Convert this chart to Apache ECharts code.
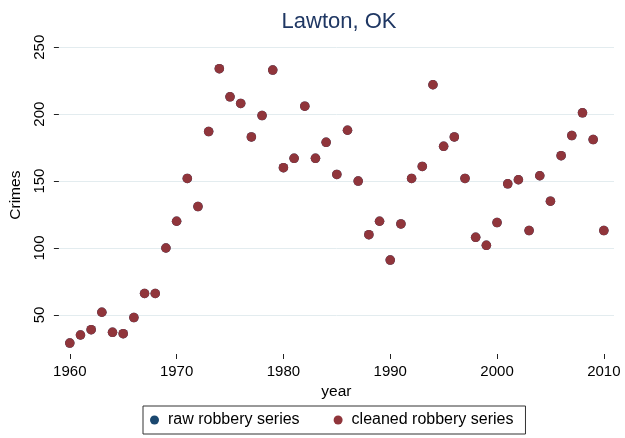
<!DOCTYPE html>
<html>
<head>
<meta charset="utf-8">
<script src="https://cdn.jsdelivr.net/npm/echarts@6/dist/echarts.min.js"></script>
<style>
html,body{margin:0;padding:0;background:#fff;}
#chart{width:625px;height:438px;}
</style>
</head>
<body>
<div id="chart"></div>
<script>
const years = [1960,1961,1962,1963,1964,1965,1966,1967,1968,1969,
  1970,1971,1972,1973,1974,1975,1976,1977,1978,1979,
  1980,1981,1982,1983,1984,1985,1986,1987,1988,1989,
  1990,1991,1992,1993,1994,1995,1996,1997,1998,1999,
  2000,2001,2002,2003,2004,2005,2006,2007,2008,2009,2010];
const rawRobbery = [29,35,39,52,37,36,48,66,66,100,
  120,152,131,187,234,213,208,183,199,233,
  160,167,206,167,179,155,188,150,110,120,
  91,118,152,161,222,176,183,152,108,102,
  119,148,151,113,154,135,169,184,201,181,113];
const cleanedRobbery = [29,35,39,52,37,36,48,66,66,100,
  120,152,131,187,234,213,208,183,199,233,
  160,167,206,167,179,155,188,150,110,120,
  91,118,152,161,222,176,183,152,108,102,
  119,148,151,113,154,135,169,184,201,181,113];
const xTicks = [1960,1970,1980,1990,2000,2010];
const yTicks = [50,100,150,200,250];

const FONT = '"Liberation Sans", Arial, Helvetica, sans-serif';
const chart = echarts.init(document.getElementById('chart'), null, {renderer: 'canvas'});
const option = {
  backgroundColor: '#ffffff',
  animation: false,
  title: {
    text: 'Lawton, OK',
    left: 334, top: 6, textAlign: 'center',
    textStyle: {fontFamily: FONT, fontSize: 22, fontWeight: 'normal', color: '#1f3763'}
  },
  legend: {
    left: 143, top: 406,
    padding: [6, 12, 6, 7],
    borderColor: '#333333', borderWidth: 1,
    itemWidth: 9, itemHeight: 9, itemGap: 34,
    icon: 'circle',
    textStyle: {fontFamily: FONT, fontSize: 16, color: '#000', padding: [0,0,0,4]},
    data: ['raw robbery series', 'cleaned robbery series']
  },
  grid: {left: 53, right: 11, top: 36.3, bottom: 84, containLabel: false},
  xAxis: {
    type: 'value', min: 1958.98, max: 2010.95,
    name: 'year', nameLocation: 'middle', nameGap: 26,
    nameTextStyle: {fontFamily: FONT, fontSize: 15.5, color: '#000'},
    axisLine: {show: false},
    axisTick: {show: true, length: 5, customValues: xTicks, lineStyle: {color: '#222', width: 1}},
    axisLabel: {customValues: xTicks, margin: 10, fontFamily: FONT, fontSize: 15, color: '#000', formatter: v => String(v)},
    splitLine: {show: false}
  },
  yAxis: {
    type: 'value', min: 20.8, max: 258.2,
    name: 'Crimes', nameLocation: 'middle', nameGap: 30,
    nameTextStyle: {fontFamily: FONT, fontSize: 15.5, color: '#000'},
    axisLine: {show: false},
    axisTick: {show: true, length: 5, customValues: yTicks, lineStyle: {color: '#222', width: 1}},
    axisLabel: {customValues: yTicks, rotate: 90, margin: 12, fontFamily: FONT, fontSize: 15, color: '#000'},
    splitLine: {show: true, lineStyle: {color: '#e3ecef', width: 1}}
  },
  series: [
    {
      name: 'raw robbery series', type: 'scatter', symbol: 'circle', symbolSize: 9.5,
      itemStyle: {color: '#1a476f', opacity: 1},
      data: years.map((y, i) => [y, rawRobbery[i]])
    },
    {
      name: 'cleaned robbery series', type: 'scatter', symbol: 'circle', symbolSize: 9.5,
      itemStyle: {color: '#90353b', opacity: 1},
      data: years.map((y, i) => [y, cleanedRobbery[i]])
    }
  ]
};
chart.setOption(option);
</script>
</body>
</html>
